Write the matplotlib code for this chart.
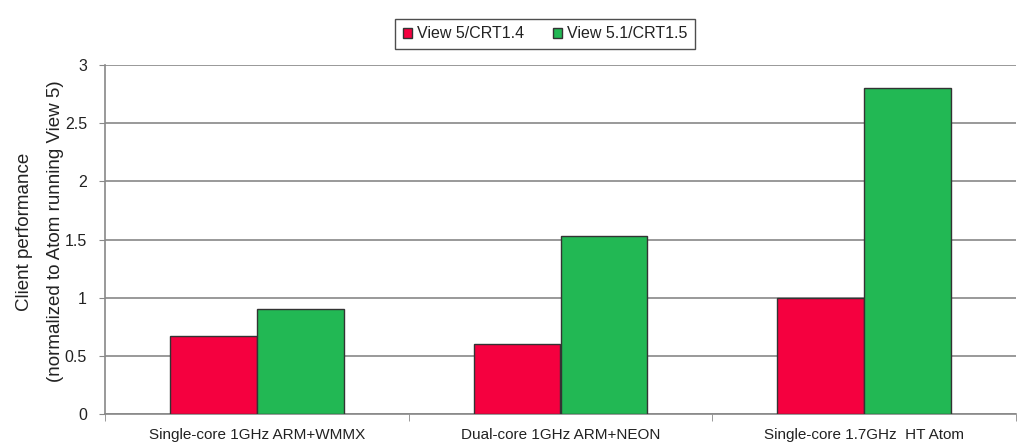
import numpy as np
import matplotlib
matplotlib.use('Agg')
import matplotlib.pyplot as plt

plt.rcParams['font.family'] = ['Liberation Sans', 'DejaVu Sans']

categories = ['Single-core 1GHz ARM+WMMX', 'Dual-core 1GHz ARM+NEON', 'Single-core 1.7GHz  HT Atom']
series_names = ['View 5/CRT1.4', 'View 5.1/CRT1.5']
view5 = [0.67, 0.60, 1.00]
view51 = [0.90, 1.53, 2.80]

colors = ['#F5003F', '#22B854']
txt = '#222222'

fig = plt.figure(figsize=(10.22, 4.47), dpi=100)
ax = fig.add_axes([105/1022, 1-414/447, (1016-105)/1022, (414-65)/447])

x = np.arange(len(categories))
w = 0.286
ax.bar(x - w/2, view5, w, color=colors[0], edgecolor='#333333', linewidth=1, label=series_names[0], zorder=3)
ax.bar(x + w/2, view51, w, color=colors[1], edgecolor='#333333', linewidth=1, label=series_names[1], zorder=3)

ax.set_xlim(-0.5, len(categories) - 0.5)
ax.set_ylim(0, 3)
ax.set_yticks([0, 0.5, 1, 1.5, 2, 2.5, 3])
ax.set_yticklabels(['0', '0.5', '1', '1.5', '2', '2.5', '3'])
ax.set_xticks(x)
ax.set_xticklabels(categories, fontsize=11, color=txt)
ax.set_xticks(np.arange(len(categories) + 1) - 0.5, minor=True)
ax.tick_params(axis='x', which='major', length=0, pad=10)
ax.tick_params(axis='x', which='minor', length=5, color='#888888')
ax.tick_params(axis='y', length=4, color='#888888', labelsize=11.5, labelcolor=txt, pad=9)
ax.yaxis.grid(True, color='#888888', linewidth=1.2, zorder=0)
for s in ['top', 'right']:
    ax.spines[s].set_visible(False)
ax.spines['left'].set_color('#888888')
ax.spines['bottom'].set_color('#888888')
ax.spines['left'].set_linewidth(1.2)
ax.spines['bottom'].set_linewidth(1.2)

ax.set_ylabel('Client performance\n(normalized to Atom running View 5)', fontsize=13.5, color=txt,
              linespacing=2.1, labelpad=0.5)
ax.yaxis.label.set_y(0.5 + 8/349)

leg = fig.legend(loc='center', bbox_to_anchor=(545/1022, 1-34/447), ncol=2, frameon=True,
                 fancybox=False, edgecolor='#222222', fontsize=11.5, handlelength=0.6, handleheight=0.6,
                 handletextpad=0.3, columnspacing=1.8, borderpad=0.45, borderaxespad=0)
leg.get_frame().set_linewidth(1)
for h in leg.legend_handles:
    h.set_edgecolor('#333333')
for t in leg.get_texts():
    t.set_color(txt)

fig.savefig('out.png', dpi=100)
